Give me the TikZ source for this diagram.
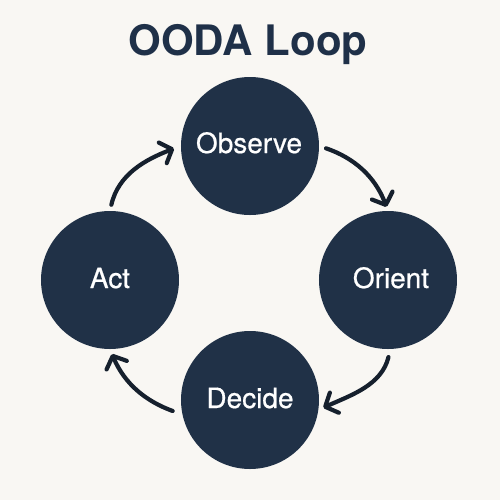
\documentclass[tikz,border=0pt]{standalone}
\usepackage{fontspec}
\setmainfont{TeX Gyre Heros}
\usetikzlibrary{arrows.meta}
\definecolor{bg}{HTML}{F9F7F3}
\definecolor{navy}{HTML}{203147}
\definecolor{arrowc}{HTML}{16202D}
\definecolor{titlec}{HTML}{1F3048}
\tikzset{
  disc/.style={circle, fill=navy, draw=none, minimum size=69pt, inner sep=0pt},
  lab/.style={text=white, anchor=base, font=\fontsize{14}{16}\selectfont\addfontfeatures{FakeBold=0.6}, inner sep=0pt},
  loopar/.style={draw=arrowc, line width=2.1pt, line cap=round,
    -{Straight Barb[length=5pt, width=11pt, line width=2.1pt, round]}},
}
\begin{document}
\begin{tikzpicture}[x=0.5pt, y=-0.5pt]
\fill[bg] (0,0) rectangle (500,500);
\useasboundingbox (0,0) rectangle (500,500);
\node[text=titlec, anchor=base, font=\fontsize{21}{24}\selectfont\bfseries, inner sep=0pt] (title) at (248,55) {OODA Loop};
\node[disc] (obs) at (250,146) {};
\node[disc] (ori) at (388,280) {};
\node[disc] (dec) at (250,400) {};
\node[disc] (act) at (110,280) {};
\node[lab] (tobs) at (249,153) {Observe};
\node[lab] (tori) at (391,288) {Orient};
\node[lab] (tdec) at (250,408) {Decide};
\node[lab] (tact) at (110,288) {Act};
\draw[loopar, shorten <=3.5pt, shorten >=2pt] (obs.0) to[out=-19, in=111] (ori.90);
\draw[loopar, shorten <=4pt, shorten >=2.5pt] (ori.-88) to[out=-104, in=24] (dec.-8);
\draw[loopar, shorten <=5pt, shorten >=2.5pt] (dec.192) to[out=160, in=-67] (act.-90);
\draw[loopar, shorten <=3pt, shorten >=3.5pt] (act.90) to[out=77, in=201] (obs.180);
\end{tikzpicture}
\end{document}
